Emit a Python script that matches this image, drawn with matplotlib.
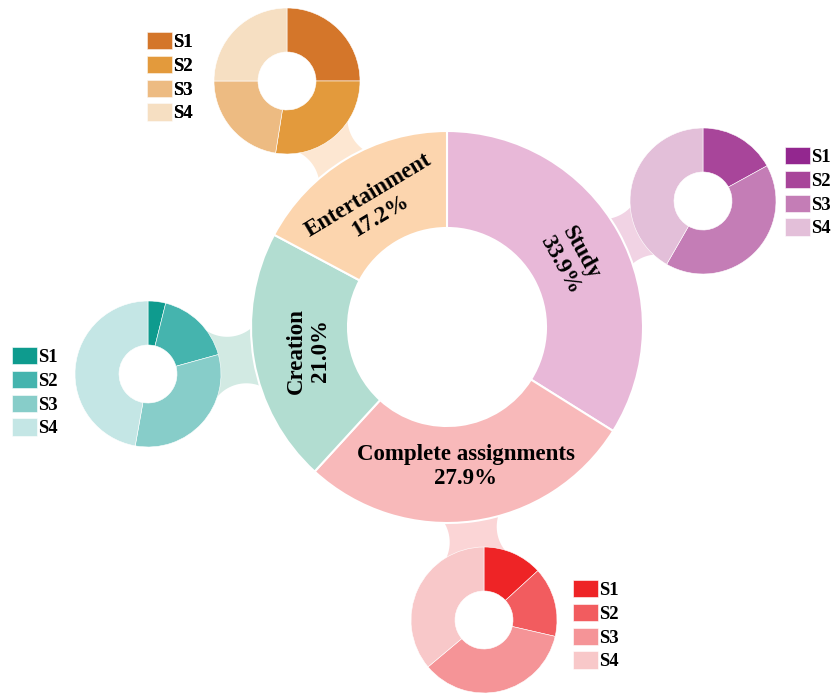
import numpy as np
import matplotlib
matplotlib.use("Agg")
import matplotlib.pyplot as plt
from matplotlib.patches import Polygon

# main categories (share of time, %)
categories = ["Study", "Complete assignments", "Creation", "Entertainment"]
shares = [33.9, 27.9, 21.0, 17.2]

# sub-shares S1..S4 for each category (%)
sub_labels = ["S1", "S2", "S3", "S4"]
study_sub = [0.0, 17.0, 41.3, 41.7]
complete_sub = [13.2, 15.4, 35.3, 36.1]
creation_sub = [3.9, 16.8, 32.1, 47.2]
entertainment_sub = [25.0, 27.5, 22.5, 25.0]

# colours
main_colors = ["#E8B8D8", "#F8B9BA", "#B2DDD1", "#FCD5AE"]
neck_colors = ["#F1D3E4", "#FBD5D6", "#D2EAE3", "#FDE7D2"]
sub_colors = [
    ["#93278F", "#A8459A", "#C47DB6", "#E3BFD9"],
    ["#EE2426", "#F25C5F", "#F59497", "#F8C8C9"],
    ["#0E9B8E", "#45B4AE", "#87CDC9", "#C4E6E5"],
    ["#D4762A", "#E39A3C", "#EDBB82", "#F6DFC2"],
]
label_rot = [-61, 0, 90, 31]

# layout (pixel-like data units, y up)
W, H = 831, 695
big_c = (447, 368)
big_r, big_w = 196, 97
small_r, small_w = 73, 44
small_c = [(703, 494), (484, 75), (148, 321), (287, 614)]
legend_xy = [(785, 548), (573, 115), (12, 348), (147, 663)]

serif = "Liberation Serif"


def circ_int(P, rp, Q, rq):
    v = Q - P
    d = np.linalg.norm(v)
    a = (rp ** 2 - rq ** 2 + d ** 2) / (2 * d)
    h = np.sqrt(max(rp ** 2 - a ** 2, 0))
    e = v / d
    base = P + a * e
    p = np.array([-e[1], e[0]])
    return base + h * p, base - h * p


def wrap(a):
    return (a + np.pi) % (2 * np.pi) - np.pi


def neck(ax, C, R, c, r, hw, rc, color):
    # light bridge between the big ring and a small ring, concave sides
    C = np.array(C, float)
    c = np.array(c, float)
    d = np.linalg.norm(c - C)
    u = (c - C) / d
    n = np.array([-u[1], u[0]])
    M = C + u * (R + (d - R - r) / 2)
    arcs = []
    for s in (1, -1):
        P = M + s * n * (hw + rc)
        ends = []
        for Q, rq in ((C, R), (c, r)):
            a, b = circ_int(P, rc, Q, rq)
            ends.append(a if abs(np.dot(a - C, n)) < abs(np.dot(b - C, n)) else b)
        angm = np.arctan2(-s * n[1], -s * n[0])
        d0 = wrap(np.arctan2(*(ends[0] - P)[::-1]) - angm)
        d1 = wrap(np.arctan2(*(ends[1] - P)[::-1]) - angm)
        t = np.linspace(d0, d1, 40) + angm
        arcs.append(np.column_stack([P[0] + rc * np.cos(t), P[1] + rc * np.sin(t)]))
    verts = np.vstack([arcs[0], arcs[1][::-1]])
    ax.add_patch(Polygon(verts, closed=True, facecolor=color, edgecolor="none", zorder=0.5))


fig = plt.figure(figsize=(W / 100, H / 100), dpi=100)
ax = fig.add_axes([0, 0, 1, 1])

# connectors
for sc, col in zip(small_c, neck_colors):
    neck(ax, big_c, big_r, sc, small_r, 24, 38, col)

# central donut
ax.pie(shares, colors=main_colors, startangle=90, counterclock=False,
       radius=big_r, center=big_c,
       wedgeprops=dict(width=big_w, edgecolor="white", linewidth=1.5, zorder=2))

# labels in the ring
total = sum(shares)
start = 90.0
for cat, val, rot in zip(categories, shares, label_rot):
    span = 360.0 * val / total
    mid = np.deg2rad(start - span / 2)
    start -= span
    x = big_c[0] + 141 * np.cos(mid)
    y = big_c[1] + 141 * np.sin(mid)
    ax.text(x, y, f"{cat}\n{val:.1f}%", ha="center", va="center", rotation=rot,
            rotation_mode="anchor", family=serif, weight="bold", fontsize=16.5,
            linespacing=1.2, zorder=3)

# small donuts + legends
subs = [study_sub, complete_sub, creation_sub, entertainment_sub]
for vals, cols, sc, lxy in zip(subs, sub_colors, small_c, legend_xy):
    wedges, _ = ax.pie(vals, colors=cols, startangle=90, counterclock=False,
                       radius=small_r, center=sc,
                       wedgeprops=dict(width=small_w, edgecolor="white", linewidth=0.4, zorder=2))
    leg = ax.legend(wedges, sub_labels, loc="upper left", bbox_to_anchor=lxy,
                    bbox_transform=ax.transData, frameon=False, borderpad=0,
                    borderaxespad=0, handlelength=1.33, handleheight=1.05,
                    handletextpad=0.05, labelspacing=0.25,
                    prop=dict(family=serif, weight="bold", size=13.5))
    ax.add_artist(leg)

ax.set_xlim(0, W)
ax.set_ylim(0, H)
ax.set_aspect("equal")
ax.axis("off")

fig.savefig("out.png", dpi=100)
